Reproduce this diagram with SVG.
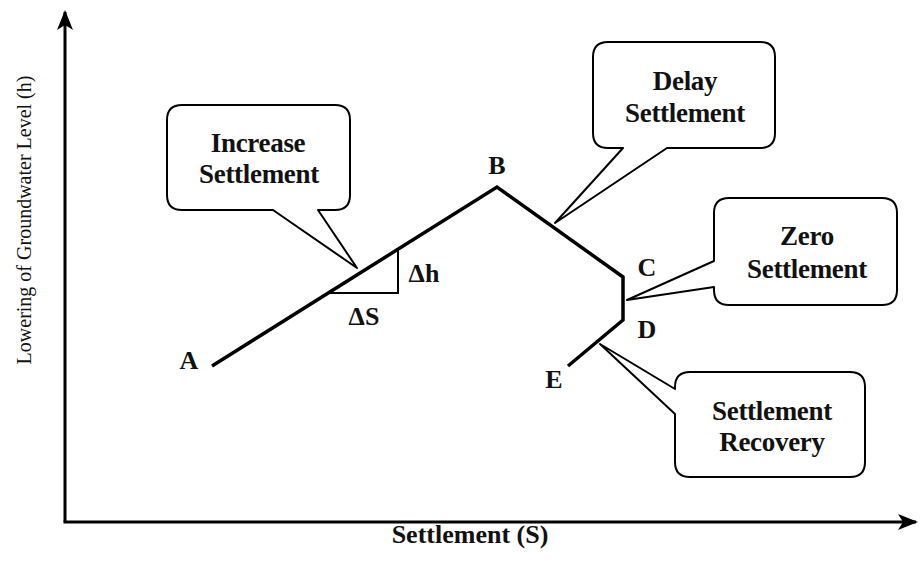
<svg xmlns="http://www.w3.org/2000/svg" width="920" height="577" viewBox="0 0 920 577">
<style>
.t{font-family:"Liberation Serif","Times New Roman",serif;font-weight:bold;font-size:27px;fill:#111;text-anchor:middle;letter-spacing:-0.3px}
.lbl{font-family:"Liberation Serif","Times New Roman",serif;font-weight:bold;font-size:26px;fill:#111}
.ax{fill:none;stroke:#000;stroke-width:3}
.curve{fill:none;stroke:#000;stroke-width:3.5;stroke-linejoin:miter}
.co{fill:#fff;stroke:#000;stroke-width:2;stroke-linejoin:round}
</style>
<defs>
<marker id="arr" viewBox="0 0 20 16" refX="18" refY="8" markerWidth="20" markerHeight="16" markerUnits="userSpaceOnUse" orient="auto">
<path d="M0,0 L20,8 L0,16 L5,8 Z" fill="#000"/>
</marker>
</defs>
<rect width="920" height="577" fill="#fff"/>
<g id="axes">
<path class="ax" d="M65,522 L65,12" marker-end="url(#arr)"/>
<path class="ax" d="M63.5,522 L916,522" marker-end="url(#arr)"/>
<text font-family="Liberation Serif,'Times New Roman',serif" font-size="20" fill="#111" text-anchor="middle" transform="translate(31,220) rotate(-90)">Lowering of Groundwater Level (h)</text>
<text class="lbl" x="470" y="543" text-anchor="middle" font-size="23">Settlement (S)</text>
</g>
<g id="connectors">
<path class="curve" d="M212,366 L497,187 L623,277 L623,320 L568,366"/>
<path fill="none" stroke="#000" stroke-width="2" d="M328,293 L398,293 L398,250"/>
</g>
<g id="labels">
<text class="lbl" x="189" y="369" text-anchor="middle">A</text>
<text class="lbl" x="497" y="174" text-anchor="middle">B</text>
<text class="lbl" x="647" y="276" text-anchor="middle">C</text>
<text class="lbl" x="647" y="338" text-anchor="middle">D</text>
<text class="lbl" x="554" y="388" text-anchor="middle">E</text>
<text class="lbl" x="424" y="282" text-anchor="middle">Δh</text>
<text class="lbl" x="364" y="325" text-anchor="middle">ΔS</text>
</g>
<g id="increase-settlement">
<path class="co" d="M182,105 L335,105 Q350,105 350,120 L350,195 Q350,210 335,210 L318,210 L357,268 L273,210 L182,210 Q167,210 167,195 L167,120 Q167,105 182,105 Z"/>
<text class="t" x="258" y="152">Increase</text>
<text class="t" x="259" y="183">Settlement</text>
</g>
<g id="delay-settlement">
<path class="co" d="M608,42 L760,42 Q775,42 775,57 L775,133 Q775,148 760,148 L667,148 L555,223 L623,148 L608,148 Q593,148 593,133 L593,57 Q593,42 608,42 Z"/>
<text class="t" x="685" y="90">Delay</text>
<text class="t" x="685" y="122">Settlement</text>
</g>
<g id="zero-settlement">
<path class="co" d="M729,198 L882,198 Q897,198 897,213 L897,290 Q897,305 882,305 L729,305 Q714,305 714,290 L714,287 L627,300 L714,261 L714,213 Q714,198 729,198 Z"/>
<text class="t" x="807" y="245">Zero</text>
<text class="t" x="807" y="278">Settlement</text>
</g>
<g id="settlement-recovery">
<path class="co" d="M690,372 L850,372 Q865,372 865,387 L865,462 Q865,477 850,477 L690,477 Q675,477 675,462 L675,414 L600,344 L675,389 L675,387 Q675,372 690,372 Z"/>
<text class="t" x="772" y="420">Settlement</text>
<text class="t" x="772" y="451">Recovery</text>
</g>
</svg>
